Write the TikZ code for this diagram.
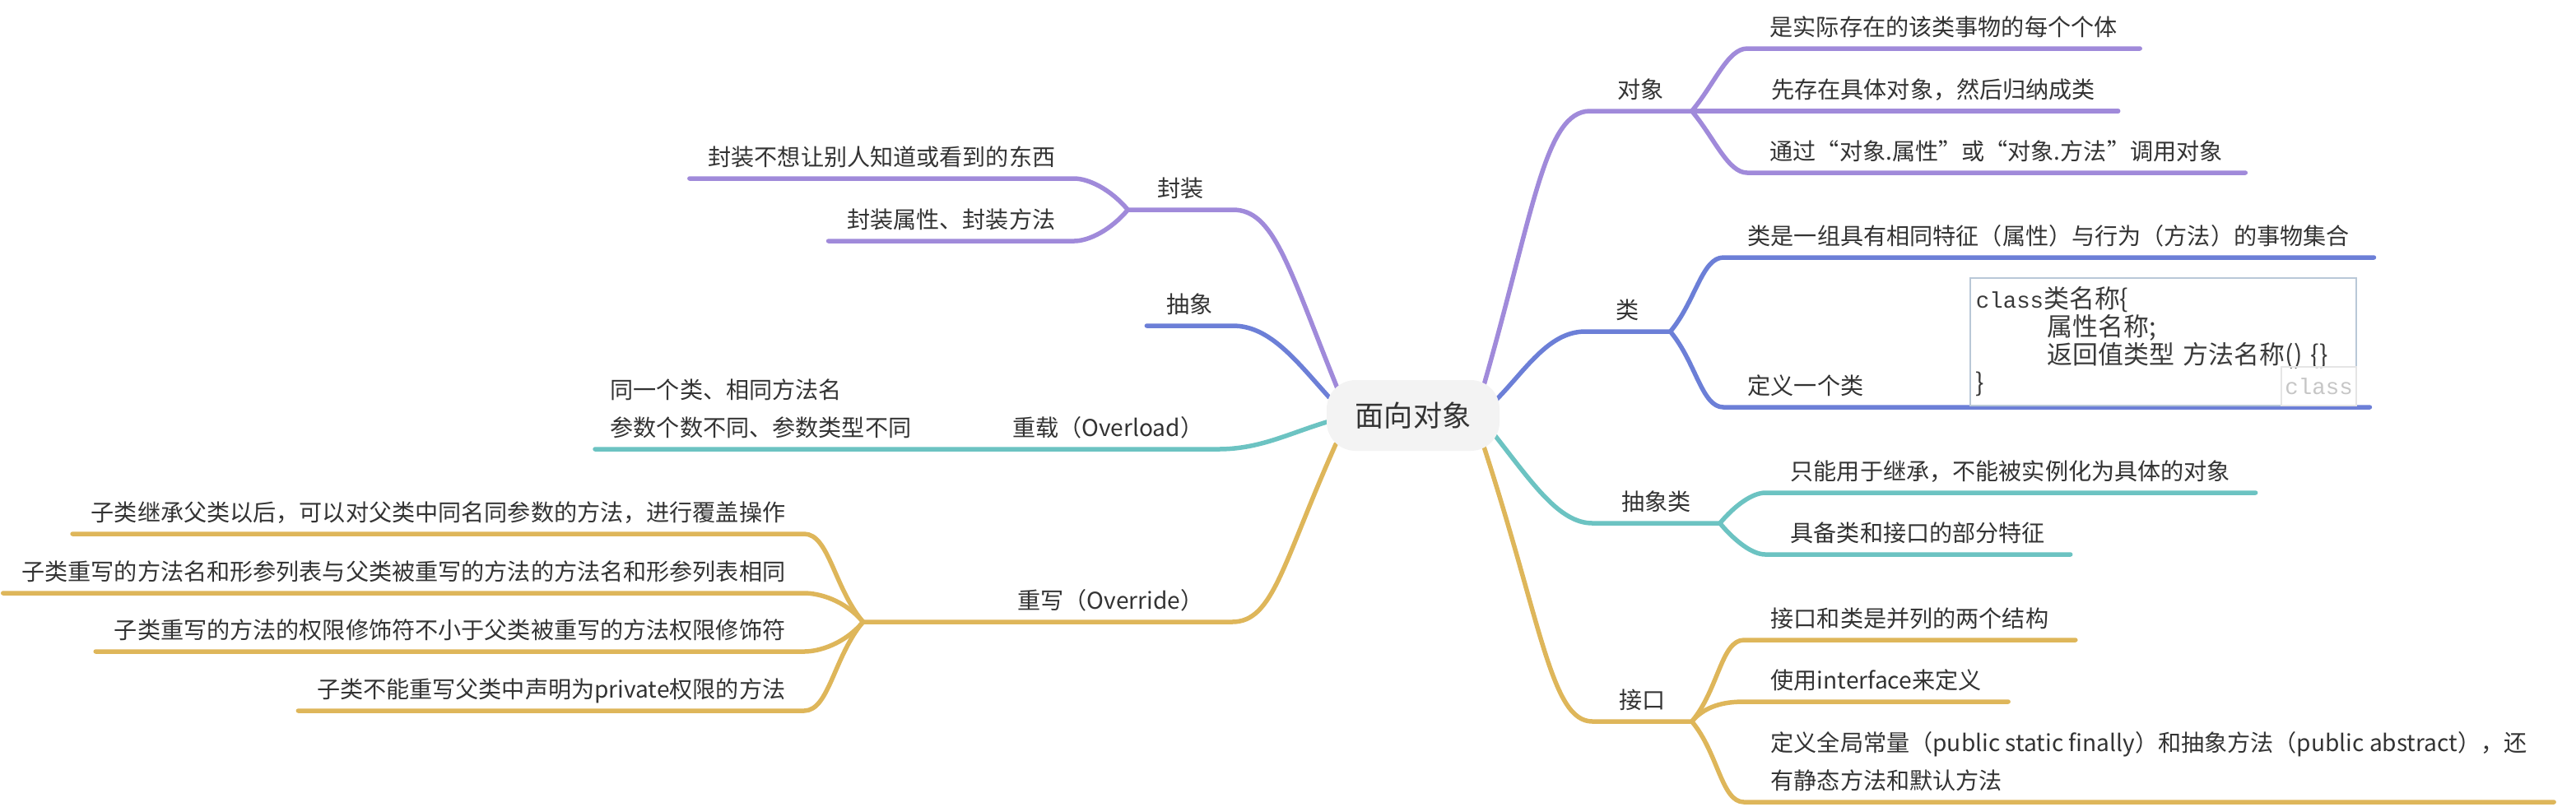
\documentclass[tikz,border=0pt]{standalone}
\usepackage{fontspec}
\setmainfont{Noto Sans CJK SC}
\setmonofont{Liberation Mono}
\usepackage{tikz}
\usetikzlibrary{positioning, backgrounds}
\definecolor{mypurple}{RGB}{160, 138, 218}
\definecolor{myblue}{RGB}{108, 127, 215}
\definecolor{myteal}{RGB}{108, 195, 194}
\definecolor{mygold}{RGB}{222, 182, 90}
\definecolor{myink}{RGB}{51, 51, 51}
\definecolor{myroot}{RGB}{243, 243, 243}
\definecolor{codeink}{RGB}{58, 58, 58}
\definecolor{codeframe}{RGB}{185, 200, 215}

\tikzset{
  root/.style={rounded corners=0.35cm, fill=myroot, minimum width=2.1cm, minimum height=0.86cm, inner sep=0pt, text=myink, font=\fontsize{10pt}{12pt}\selectfont},
  topic/.style={inner xsep=0.27cm, inner ysep=0.1cm, text height=0.25cm, text depth=0.05cm, text=myink, font=\fontsize{8pt}{13pt}\selectfont},
  twolines/.style={topic, align=left},
  branch/.style={line width=0.055cm, line cap=round, line join=round},
  upright/.style={out=50, in=180, out looseness=1.1, in looseness=0.6},
  downright/.style={out=-50, in=180, out looseness=1.1, in looseness=0.6},
  upleft/.style={out=130, in=0, out looseness=1.1, in looseness=0.6},
  downleft/.style={out=230, in=0, out looseness=1.1, in looseness=0.6},
  codebox/.style={draw=codeframe, line width=0.5pt, inner xsep=0.07cm, inner ysep=0cm, minimum height=1.55cm, text width=4.55cm, align=left, text=codeink, font=\fontsize{8.8pt}{9.7pt}\selectfont},
  hintbox/.style={draw=gray!20, line width=0.4pt, inner sep=0pt, minimum width=0.91cm, minimum height=0.47cm, text=gray!45, font=\ttfamily\fontsize{7.8pt}{9pt}\selectfont}
}

\begin{document}
\begin{tikzpicture}
        \useasboundingbox (0,0) rectangle (31.3,-9.8);
        % Root
        \node[root] (root) at (17.17,-5.05) {面向对象};

        % Object
        \node[topic, anchor=south west, inner xsep=0.33cm] (obj) at (19.32,-1.35) {对象};
        \node[topic, anchor=south west] (obj1) at (21.23,-0.59) {是实际存在的该类事物的每个个体};
        \node[topic, right=0.69cm of obj.south east, anchor=south west] (obj2) {先存在具体对象，然后归纳成类};
        \node[topic, anchor=south west] (obj3) at (21.23,-2.10) {通过“对象.属性”或“对象.方法”调用对象};

        % Class
        \node[topic, anchor=south west, inner xsep=0.37cm] (cls) at (19.26,-4.03) {类};
        \node[topic, anchor=south west, inner xsep=0.29cm] (cls1) at (20.94,-3.13) {类是一组具有相同特征（属性）与行为（方法）的事物集合};
        \node[topic, anchor=south west, inner xsep=0.29cm, text width=7.26cm, align=left] (cls2) at (20.94,-4.95) {定义一个类};
        \node[codebox, anchor=north west] (code) at (23.93,-3.37) {{\ttfamily\fontsize{7.8pt}{9.7pt}\selectfont class}类名称\{\\
          \hspace*{0.87cm}属性名称;\\
          \hspace*{0.87cm}返回值类型 方法名称() \{\}\\
          \}};
        \node[hintbox, anchor=south east] (hint) at (code.south east) {class};

        % Abstract class
        \node[topic, anchor=south west, inner xsep=0.345cm] (abs) at (19.35,-6.36) {抽象类};
        \node[topic, anchor=south west, inner xsep=0.3cm] (abs1) at (21.45,-5.99) {只能用于继承，不能被实例化为具体的对象};
        \node[topic, anchor=south west, inner xsep=0.3cm] (abs2) at (21.45,-6.74) {具备类和接口的部分特征};

        % Interface
        \node[topic, anchor=south west, inner xsep=0.315cm] (itf) at (19.35,-8.77) {接口};
        \node[topic, anchor=south west, inner xsep=0.32cm] (itf1) at (21.19,-7.78) {接口和类是并列的两个结构};
        \node[topic, anchor=south west, inner xsep=0.32cm] (itf2) at (21.19,-8.53) {使用interface来定义};
        \node[twolines, anchor=south west, inner xsep=0.32cm] (itf3) at (21.19,-9.75) {定义全局常量（public static finally）和抽象方法（public abstract），还\\有静态方法和默认方法};

        % Encapsulation
        \node[topic, anchor=south east, inner xsep=0.35cm] (enc) at (14.98,-2.55) {封装};
        \node[topic, anchor=south east, inner xsep=0.22cm] (enc1) at (13.05,-2.17) {封装不想让别人知道或看到的东西};
        \node[topic, anchor=south east, inner xsep=0.22cm] (enc2) at (13.05,-2.93) {封装属性、封装方法};

        % Abstraction
        \node[topic, anchor=south east, inner xsep=0.235cm] (abt) at (14.98,-3.96) {抽象};

        % Overload
        \node[topic, anchor=south east, inner xsep=0.17cm] (ovl) at (14.80,-5.46) {重载（Overload）};
        \node[twolines, anchor=south west, inner xsep=0.18cm] (ovl1) at (7.23,-5.46) {同一个类、相同方法名\\参数个数不同、参数类型不同};

        % Override
        \node[topic, anchor=south east, inner xsep=0.34cm, text width=3.79cm, align=right] (ovr) at (14.97,-7.56) {重写（Override）};
        \node[topic, anchor=south east, inner xsep=0.22cm] (ovr1) at (9.77,-6.49) {子类继承父类以后，可以对父类中同名同参数的方法，进行覆盖操作};
        \node[topic, anchor=south east, inner xsep=0.22cm] (ovr2) at (9.77,-7.21) {子类重写的方法名和形参列表与父类被重写的方法的方法名和形参列表相同};
        \node[topic, anchor=south east, inner xsep=0.22cm] (ovr3) at (9.77,-7.92) {子类重写的方法的权限修饰符不小于父类被重写的方法权限修饰符};
        \node[topic, anchor=south east, inner xsep=0.22cm] (ovr4) at (9.77,-8.64) {子类不能重写父类中声明为private权限的方法};

        \begin{scope}[on background layer]
        % Right branches
        \draw[branch, mypurple] ([shift={(0.86,0.37)}]root.center) to[out=74, in=180, out distance=2.2cm, in distance=0.55cm] (obj.south west) -- (obj.south east);
        \draw[branch, mypurple] (obj.south east) to[upright] (obj1.south west) -- (obj1.south east);
        \draw[branch, mypurple] (obj.south east) -- (obj2.south west) -- (obj2.south east);
        \draw[branch, mypurple] (obj.south east) to[downright] (obj3.south west) -- (obj3.south east);

        \draw[branch, myblue] ([shift={(1.00,0.18)}]root.center) to[out=45, in=180, out distance=0.5cm, in distance=0.45cm] (cls.south west) -- (cls.south east);
        \draw[branch, myblue] (cls.south east) to[upright] (cls1.south west) -- (cls1.south east);
        \draw[branch, myblue] (cls.south east) to[downright] (cls2.south west) -- (cls2.south east);

        \draw[branch, myteal] ([shift={(1.00,-0.25)}]root.center) to[out=-52, in=180, out distance=0.75cm, in distance=0.4cm] (abs.south west) -- (abs.south east);
        \draw[branch, myteal] (abs.south east) to[upright] (abs1.south west) -- (abs1.south east);
        \draw[branch, myteal] (abs.south east) to[downright] (abs2.south west) -- (abs2.south east);

        \draw[branch, mygold] ([shift={(0.86,-0.38)}]root.center) to[out=-72, in=180, out distance=2.3cm, in distance=0.5cm] (itf.south west) -- (itf.south east);
        \draw[branch, mygold] (itf.south east) to[upright] (itf1.south west) -- (itf1.south east);
        \draw[branch, mygold] (itf.south east) to[upright] (itf2.south west) -- (itf2.south east);
        \draw[branch, mygold] (itf.south east) to[downright] (itf3.south west) -- (itf3.south east);

        % Left branches
        \draw[branch, mypurple] ([shift={(-0.92,0.33)}]root.center) to[out=112, in=0, out distance=1.6cm, in distance=0.5cm] (enc.south east) -- (enc.south west);
        \draw[branch, mypurple] (enc.south west) to[upleft] (enc1.south east) -- (enc1.south west);
        \draw[branch, mypurple] (enc.south west) to[downleft] (enc2.south east) -- (enc2.south west);

        \draw[branch, myblue] ([shift={(-1.02,0.22)}]root.center) to[out=132, in=0, out distance=0.6cm, in distance=0.45cm] (abt.south east) -- (abt.south west);

        \draw[branch, myteal] ([shift={(-1.05,-0.08)}]root.center) to[out=197, in=0, out distance=0.5cm, in distance=0.5cm] (ovl.south east) -- (ovl.south west) -- (ovl1.south east) -- (ovl1.south west);

        \draw[branch, mygold] ([shift={(-0.94,-0.35)}]root.center) to[out=246, in=0, out distance=1.6cm, in distance=0.5cm] (ovr.south east) -- (ovr.south west);
        \draw[branch, mygold] (ovr.south west) to[upleft] (ovr1.south east) -- (ovr1.south west);
        \draw[branch, mygold] (ovr.south west) to[upleft] (ovr2.south east) -- (ovr2.south west);
        \draw[branch, mygold] (ovr.south west) to[downleft] (ovr3.south east) -- (ovr3.south west);
        \draw[branch, mygold] (ovr.south west) to[downleft] (ovr4.south east) -- (ovr4.south west);
        \end{scope}
    \end{tikzpicture}
\end{document}
